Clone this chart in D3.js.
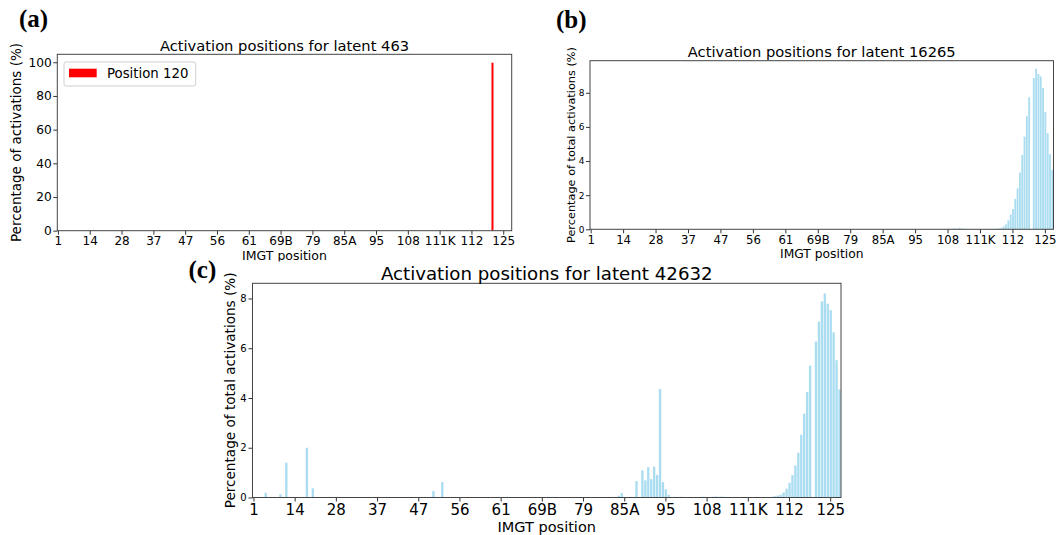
<!DOCTYPE html>
<html>
<head>
<meta charset="utf-8">
<script src="https://cdn.jsdelivr.net/npm/d3@7"></script>
<style>
  body { margin: 0; background: #fff; }
  text { font-family: "DejaVu Sans", sans-serif; fill: #000; }
</style>
</head>
<body>
<script>
// IMGT position axis: 200 slots, every 14th one labelled
var positionCount = 200;
var tickIndex = [0, 14, 28, 42, 56, 70, 84, 98, 112, 126, 140, 154, 168, 182, 196];
var tickLabels = ["1", "14", "28", "37", "47", "56", "61", "69B", "79", "85A", "95", "108", "111K", "112", "125"];

// latent 463 (one position only)
var latent463Pos = [191];
var latent463Pct = [99.75];

// latent 16265
var latent16265Pos = [153, 154, 155, 156, 157, 158, 159, 160, 161, 162,
  172, 173, 174, 175, 176, 177, 178, 179, 180, 181, 182, 183, 184, 185, 186, 187, 188, 189,
  191, 192, 193, 194, 195, 196, 197, 198, 199];
var latent16265Pct = [0.02, 0.03, 0.03, 0.04, 0.05, 0.04, 0.08, 0.04, 0.03, 0.02,
  0.01, 0.02, 0.02, 0.03, 0.05, 0.08, 0.17, 0.29, 0.52, 0.87, 1.19, 1.78, 2.40, 3.32, 4.36, 5.43, 6.62, 7.73,
  8.86, 9.41, 9.10, 8.96, 8.28, 6.87, 5.63, 4.40, 3.48];

// latent 42632
var latent42632Pos = [4, 9, 11, 18, 20, 61, 64, 86, 100, 124, 125,
  130, 132, 133, 134, 135, 136, 137, 138, 139, 140, 141,
  144, 145, 146, 152, 153, 156, 157, 158, 159, 160, 161,
  174, 175, 176, 177, 178, 179, 180, 181, 182, 183, 184, 185, 186, 187, 188, 189,
  191, 192, 193, 194, 195, 196, 197, 198, 199];
var latent42632Pct = [0.19, 0.13, 1.40, 2.00, 0.37, 0.26, 0.62, 0.03, 0.03, 0.07, 0.18,
  0.66, 1.09, 0.69, 1.22, 0.74, 1.24, 0.91, 4.36, 0.62, 0.33, 0.11,
  0.02, 0.03, 0.02, 0.03, 0.03, 0.03, 0.04, 0.03, 0.04, 0.03, 0.02,
  0.02, 0.02, 0.03, 0.05, 0.08, 0.11, 0.20, 0.35, 0.59, 0.90, 1.29, 1.80, 2.52, 3.37, 4.24, 5.30,
  6.27, 7.07, 7.88, 8.20, 7.79, 7.53, 6.64, 5.52, 4.34];

var svg = d3.select("body").append("svg")
    .attr("width", 1057)
    .attr("height", 535);

function drawPanel(p) {
    var x = d3.scaleBand()
        .domain(d3.range(positionCount))
        .range([p.left, p.right])
        .paddingInner(0.2)
        .paddingOuter(0.1);

    var yMax = d3.max(p.values) * 1.05;
    var y = d3.scaleLinear().domain([0, yMax]).range([p.bottom, p.top]);

    var g = svg.append("g");

    var data = p.pos.map(function (d, i) { return {pos: d, pct: p.values[i]}; });

    var clipId = "clip" + p.id;
    g.append("clipPath").attr("id", clipId)
      .append("rect")
        .attr("x", p.left).attr("y", p.top)
        .attr("width", p.right - p.left).attr("height", p.bottom - p.top);

    g.append("g").attr("clip-path", "url(#" + clipId + ")")
      .selectAll("rect")
      .data(data)
      .enter().append("rect")
        .attr("x", function (d) { return x(d.pos); })
        .attr("width", x.bandwidth() * p.barScale)
        .attr("y", function (d) { return y(d.pct); })
        .attr("height", function (d) { return y(0) - y(d.pct); })
        .attr("fill", p.color)
        .attr("fill-opacity", p.opacity);

    var xAxis = d3.axisBottom(x)
        .tickValues(tickIndex)
        .tickFormat(function (d, i) { return tickLabels[i]; })
        .tickSize(4)
        .tickPadding(p.xPad);
    var gx = g.append("g").attr("transform", "translate(0," + p.bottom + ")").call(xAxis);
    gx.select(".domain").remove();
    gx.selectAll("line").attr("stroke", "#333");
    gx.selectAll("text").style("font-size", p.xTickSize + "px").attr("fill", "#000");

    var yAxis = d3.axisLeft(y).tickValues(p.yTicks).tickSize(4).tickPadding(p.yPad);
    var gy = g.append("g").attr("transform", "translate(" + p.left + ",0)").call(yAxis);
    gy.select(".domain").remove();
    gy.selectAll("line").attr("stroke", "#333");
    gy.selectAll("text").style("font-size", p.yTickSize + "px").attr("fill", "#000");

    // frame
    g.append("rect")
        .attr("x", p.left).attr("y", p.top)
        .attr("width", p.right - p.left).attr("height", p.bottom - p.top)
        .attr("fill", "none").attr("stroke", "#444").attr("stroke-width", 1);

    var cx = (p.left + p.right) / 2;
    g.append("text").attr("x", cx).attr("y", p.titleY).attr("text-anchor", "middle")
        .style("font-size", p.titleSize + "px").text(p.title);
    g.append("text").attr("x", cx).attr("y", p.xLabelY).attr("text-anchor", "middle")
        .style("font-size", p.xLabelSize + "px").text("IMGT position");
    g.append("text")
        .attr("transform", "translate(" + p.yLabelX + "," + ((p.top + p.bottom) / 2) + ") rotate(-90)")
        .attr("text-anchor", "middle").attr("dy", "0.35em")
        .style("font-size", p.yLabelSize + "px").text(p.yLabel);

    g.append("text").attr("x", p.tagX).attr("y", p.tagY)
        .style("font-family", "'Liberation Serif', serif").style("font-weight", "bold")
        .style("font-size", "25px").text(p.tag);

    return {g: g, x: x, y: y};
}

// (a)
var a = drawPanel({
    id: "a", left: 57.3, right: 511.7, top: 54.3, bottom: 230.7,
    pos: latent463Pos, values: latent463Pct, color: "#ff0000", opacity: 1, barScale: 1.1,
    yTicks: [0, 20, 40, 60, 80, 100],
    xPad: 1.5, yPad: 1.6, xTickSize: 12, yTickSize: 12.2,
    title: "Activation positions for latent 463", titleY: 50.5, titleSize: 14.7,
    xLabelY: 259.5, xLabelSize: 12.5,
    yLabel: "Percentage of activations (%)", yLabelX: 16.7, yLabelSize: 13.5,
    tag: "(a)", tagX: 19, tagY: 27
});

// legend of (a)
var leg = a.g.append("g");
leg.append("rect").attr("x", 64).attr("y", 62).attr("width", 131.7).attr("height", 24)
    .attr("rx", 2).attr("fill", "#fff").attr("stroke", "#d0d0d0");
leg.append("rect").attr("x", 69).attr("y", 68.7).attr("width", 27.7).attr("height", 8.6)
    .attr("fill", "#ff0000");
leg.append("text").attr("x", 107).attr("y", 78.3).style("font-size", "13.3px").text("Position 120");

// (b)
drawPanel({
    id: "b", left: 590, right: 1053.5, top: 60.7, bottom: 229.3,
    pos: latent16265Pos, values: latent16265Pct, color: "#87ceeb", opacity: 0.7, barScale: 1,
    yTicks: [0, 2, 4, 6, 8],
    xPad: 2.7, yPad: 1.5, xTickSize: 11.7, yTickSize: 9,
    title: "Activation positions for latent 16265", titleY: 57, titleSize: 14.7,
    xLabelY: 257.5, xLabelSize: 12.3,
    yLabel: "Percentage of total activations (%)", yLabelX: 570.7, yLabelSize: 11.3,
    tag: "(b)", tagX: 556, tagY: 27.5
});

// (c) sits on its own white sheet, over the bottom of (a)
svg.append("rect").attr("x", 180).attr("y", 261.5).attr("width", 670).attr("height", 274).attr("fill", "#fff");

drawPanel({
    id: "c", left: 252.5, right: 841, top: 283.3, bottom: 497.5,
    pos: latent42632Pos, values: latent42632Pct, color: "#87ceeb", opacity: 0.7, barScale: 1,
    yTicks: [0, 2, 4, 6, 8],
    xPad: 2.5, yPad: 1.8, xTickSize: 15, yTickSize: 10,
    title: "Activation positions for latent 42632", titleY: 280, titleSize: 18.2,
    xLabelY: 532, xLabelSize: 14.5,
    yLabel: "Percentage of total activations (%)", yLabelX: 230, yLabelSize: 13.6,
    tag: "(c)", tagX: 188.5, tagY: 277.5
});
</script>
</body>
</html>
